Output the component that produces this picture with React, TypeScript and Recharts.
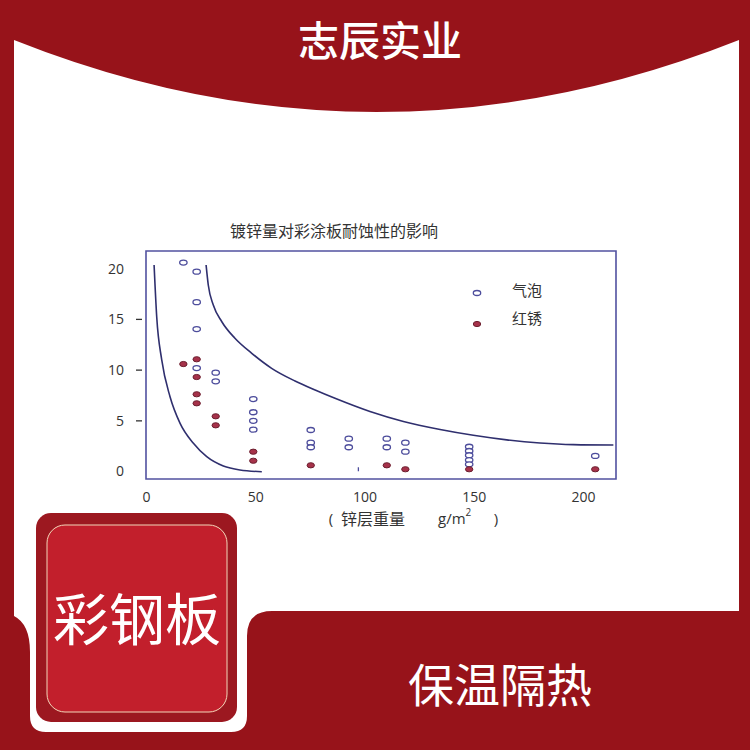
import React from 'react'
import { ComposedChart, XAxis, YAxis, Scatter, Line, ReferenceArea, Legend } from 'recharts'

// axis ticks
const xTicks = [0, 50, 100, 150, 200]
const yTicks = [0, 5, 10, 15, 20]

// 气泡 (open circles)
const bubbleX = [16.9, 23, 23, 23, 23, 31.7, 31.7, 48.9, 48.9, 48.9, 48.9, 75.2, 75.2, 75.2, 92.6, 92.6, 110, 110, 118.5, 118.5, 147.7, 147.7, 147.7, 147.7, 147.7, 205.4]
const bubbleY = [20.6, 19.7, 16.7, 14.05, 10.2, 9.75, 8.9, 7.15, 5.85, 5.0, 4.13, 4.1, 2.85, 2.4, 3.24, 2.4, 3.24, 2.4, 2.85, 1.96, 2.45, 2.03, 1.61, 1.14, 0.72, 1.54]

// 红锈 (filled dots)
const rustX = [16.9, 23, 23, 23, 23, 31.7, 31.7, 48.9, 48.9, 75.2, 110, 118.5, 147.7, 205.4]
const rustY = [10.6, 11.07, 9.32, 7.62, 6.73, 5.45, 4.56, 1.96, 1.07, 0.62, 0.62, 0.23, 0.23, 0.23]

// stray mark near x = 97
const markX = [97]
const markY = [0.23]

// boundary curves
const lowerX = [3.5, 4.7, 7.0, 10.8, 15.4, 21.5, 27.6, 35.2, 42.8, 52.8]
const lowerY = [20.36, 15.26, 11.0, 7.38, 4.76, 2.79, 1.47, 0.55, 0.16, -0.01]
const upperX = [27.3, 28.3, 30.6, 34.5, 40.5, 48.2, 57.3, 68.0, 77.2, 86.3, 102.3, 117.6, 134.4, 149.6, 164.9, 180.1, 195.4, 213.7]
const upperY = [20.36, 18.39, 16.42, 14.77, 13.14, 11.66, 10.18, 8.93, 8.04, 7.22, 5.92, 4.94, 4.15, 3.58, 3.13, 2.82, 2.66, 2.62]

const zip = (xs: number[], ys: number[]) => xs.map((x, i) => ({ x, y: ys[i] }))

const bubbles = zip(bubbleX, bubbleY)
const rust = zip(rustX, rustY)
const marks = zip(markX, markY)
const lowerCurve = zip(lowerX, lowerY)
const upperCurve = zip(upperX, upperY)

const X_DOMAIN = [-0.2, 214.9]
const Y_DOMAIN = [-0.73, 21.74]

const FRAME = '#97131a'
const NAVY = '#2f2f6e'
const BUBBLE = '#4d4d9c'
const RUST = '#a6324a'
const RUST_EDGE = '#6c1f2f'
const TEXT = '#333333'
const CJK = '"Noto Sans CJK SC", "Noto Sans", sans-serif'
const NUM = '"Open Sans", "Noto Sans", sans-serif'

const BubbleShape = (props: any) => (
  <ellipse cx={props.cx} cy={props.cy} rx={3.7} ry={2.5} fill="#fff" stroke={BUBBLE} strokeWidth={1.3} />
)

const RustShape = (props: any) => (
  <ellipse cx={props.cx} cy={props.cy} rx={3.7} ry={2.6} fill={RUST} stroke={RUST_EDGE} strokeWidth={1} />
)

const MarkShape = (props: any) => (
  <line x1={props.cx} x2={props.cx} y1={props.cy - 2} y2={props.cy + 2} stroke={BUBBLE} strokeWidth={1.3} />
)

function YTick(props: any) {
  const { y, payload } = props
  return (
    <g>
      {payload.value % 20 !== 0 && (
        <line x1={136} x2={142} y1={y} y2={y} stroke={TEXT} strokeWidth={1.3} />
      )}
      <text x={124} y={y} dy="0.35em" textAnchor="end" fill={TEXT} fontSize={14} fontFamily={NUM}>
        {payload.value}
      </text>
    </g>
  )
}

function XTick(props: any) {
  const { x, payload } = props
  return (
    <text x={x} y={497} dy="0.35em" textAnchor="middle" fill={TEXT} fontSize={14} fontFamily={NUM}>
      {payload.value}
    </text>
  )
}

function XLabel() {
  return (
    <g fill={TEXT}>
      <text x={331} y={519} dy="0.35em" textAnchor="middle" fontSize={15} fontFamily={NUM}>(</text>
      <text x={341} y={519} dy="0.35em" fontSize={16} fontFamily={CJK}>锌层重量</text>
      <text x={438} y={519} dy="0.35em" fontSize={15} fontFamily={NUM}>
        g/m<tspan dy={-8} fontSize={10}>2</tspan>
      </text>
      <text x={496} y={519} dy="0.35em" textAnchor="middle" fontSize={15} fontFamily={NUM}>)</text>
    </g>
  )
}

function renderLegend(props: any) {
  const items = (props.payload || []).filter((p: any) => p.value === '气泡' || p.value === '红锈')
  return (
    <svg width={100} height={56}>
      {items.map((item: any, i: number) => (
        <g key={item.value}>
          {item.value === '气泡' ? (
            <ellipse cx={12} cy={13 + i * 31} rx={3.7} ry={2.5} fill="#fff" stroke={BUBBLE} strokeWidth={1.3} />
          ) : (
            <ellipse cx={12} cy={13 + i * 31} rx={3.7} ry={2.6} fill={RUST} stroke={RUST_EDGE} strokeWidth={1} />
          )}
          <text x={47} y={11 + i * 28} dy="0.35em" fill={TEXT} fontSize={15} fontFamily={CJK}>
            {item.value}
          </text>
        </g>
      ))}
    </svg>
  )
}

function Background() {
  return (
    <svg width={750} height={750} style={{ position: 'absolute', left: 0, top: 0 }}>
      <rect x={0} y={0} width={750} height={750} fill={FRAME} />
      <path
        d="M14,40 Q376,184 739,40 L739,611 L272,611 Q247,611 247,636 L247,716 Q247,732 231,732 L46,732 Q30,732 30,716 L30,652 Q30,624 14,616 Z"
        fill="#ffffff"
      />
      <text x={380} y={42} dy="0.35em" textAnchor="middle" fill="#fff" fontSize={41} fontWeight={500} fontFamily={CJK}>
        志辰实业
      </text>
      <text x={334} y={231} dy="0.35em" textAnchor="middle" fill={TEXT} fontSize={16} fontFamily={CJK}>
        镀锌量对彩涂板耐蚀性的影响
      </text>
      <rect x={36} y={513} width={201} height={209} rx={15} fill="#9c1820" />
      <rect x={47} y={525} width={180} height={187} rx={18} fill="#c21f2c" stroke="#f3d6b8" strokeWidth={1} />
      <text x={137} y={620} dy="0.35em" textAnchor="middle" fill="#fff" fontSize={56} fontFamily={CJK}>
        彩钢板
      </text>
      <text x={500} y={686} dy="0.35em" textAnchor="middle" fill="#fff" fontSize={46} fontFamily={CJK}>
        保温隔热
      </text>
    </svg>
  )
}

export default function App() {
  return (
    <div style={{ position: 'absolute', left: 0, top: 0, width: 750, height: 750 }}>
      <Background />
      <div style={{ position: 'absolute', left: 0, top: 0 }}>
        <ComposedChart width={750} height={750} margin={{ top: 251, right: 134, bottom: 241, left: 106 }}>
          <XAxis
            type="number"
            dataKey="x"
            domain={X_DOMAIN}
            ticks={xTicks}
            allowDataOverflow
            axisLine={false}
            tickLine={false}
            height={30}
            tick={<XTick />}
            label={<XLabel />}
          />
          <YAxis
            type="number"
            dataKey="y"
            domain={Y_DOMAIN}
            ticks={yTicks}
            allowDataOverflow
            axisLine={false}
            tickLine={false}
            width={40}
            tick={<YTick />}
          />
          <ReferenceArea
            x1={X_DOMAIN[0]}
            x2={X_DOMAIN[1]}
            y1={Y_DOMAIN[0]}
            y2={Y_DOMAIN[1]}
            fill="none"
            stroke="#5252a0"
            strokeWidth={1.6}
            ifOverflow="visible"
          />
          <Line
            data={lowerCurve}
            dataKey="y"
            type="monotone"
            stroke={NAVY}
            strokeWidth={1.6}
            dot={false}
            legendType="none"
            isAnimationActive={false}
          />
          <Line
            data={upperCurve}
            dataKey="y"
            type="monotone"
            stroke={NAVY}
            strokeWidth={1.6}
            dot={false}
            legendType="none"
            isAnimationActive={false}
          />
          <Scatter name="气泡" data={bubbles} dataKey="y" fill={BUBBLE} shape={BubbleShape} isAnimationActive={false} />
          <Scatter name="红锈" data={rust} dataKey="y" fill={RUST} shape={RustShape} isAnimationActive={false} />
          <Scatter data={marks} dataKey="y" shape={MarkShape} legendType="none" isAnimationActive={false} />
          <Legend
            layout="vertical"
            align="center"
            verticalAlign="middle"
            content={renderLegend}
            wrapperStyle={{ position: 'absolute', left: 465, top: 280, width: 100, height: 56 }}
          />
        </ComposedChart>
      </div>
    </div>
  )
}
